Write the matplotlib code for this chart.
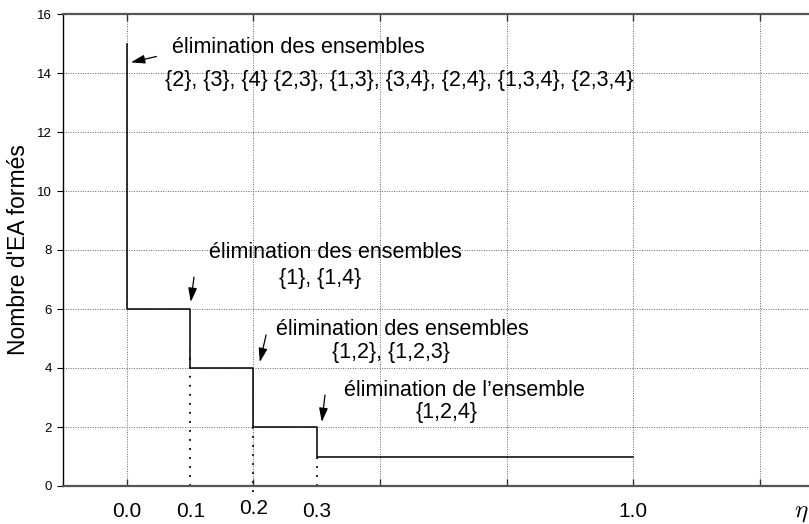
import numpy as np
import matplotlib
matplotlib.use('Agg')
import matplotlib.pyplot as plt
from matplotlib.transforms import blended_transform_factory

plt.rcParams['font.family'] = ['Liberation Sans', 'DejaVu Sans']
plt.rcParams['mathtext.fontset'] = 'cm'

# thresholds (eta) and number of sets formed
eta = [0.0, 0.1, 0.2, 0.3, 1.0]
n_sets = [15, 6, 4, 2, 1]
eta_labels = ['0.0', '0.1', '0.2', '0.3', '1.0']

notes = [
    ('élimination des ensembles',
     '{2}, {3}, {4} {2,3}, {1,3}, {3,4}, {2,4}, {1,3,4}, {2,3,4}'),
    ('élimination des ensembles', '{1}, {1,4}'),
    ('élimination des ensembles', '{1,2}, {1,2,3}'),
    ("élimination de l\u2019ensemble", '{1,2,4}'),
]


# axis is linear up to 0.3 then compressed so 1.0 sits at 0.8
def fwd(x):
    x = np.asarray(x, dtype=float)
    return np.where(x <= 0.3, x, 0.3 + (x - 0.3) * 0.5 / 0.7)


def inv(p):
    p = np.asarray(p, dtype=float)
    return np.where(p <= 0.3, p, 0.3 + (p - 0.3) * 0.7 / 0.5)


def pos(p):
    return float(inv(p))


fig = plt.figure(figsize=(8.09, 5.24), dpi=100)
ax = fig.add_axes([63 / 809, 38 / 524, 760 / 809, 472 / 524])
ax.set_xscale('function', functions=(fwd, inv))
ax.set_xlim(pos(-0.101), pos(1.1))
ax.set_ylim(0, 16)

# step curve
xs = [eta[0]]
ys = [n_sets[0]]
for i in range(1, len(eta)):
    xs += [eta[i - 1], eta[i]]
    ys += [n_sets[i], n_sets[i]]
ax.plot(xs, ys, color='black', lw=1.1, zorder=3)

# coarse dotted drop lines
ax.plot([eta[1], eta[1]], [0, 4.6], color='black', lw=1.3, ls=(0, (1, 4)), zorder=2)
ax.plot([eta[2], eta[2]], [-0.2, 2], color='black', lw=1.3, ls=(0, (1, 4)), zorder=2, clip_on=False)
ax.plot([eta[3], eta[3]], [0, 1], color='black', lw=1.3, ls=(0, (1, 4)), zorder=2)

# grid
grid_x = [pos(p) for p in [0.0, 0.2, 0.4, 0.6, 0.8, 1.0]]
ax.set_xticks(grid_x)
ax.set_xticklabels([])
ax.set_yticks(range(0, 17, 2))
ax.grid(True, color='#666666', lw=0.7, ls=(0, (1, 1.5)))
ax.tick_params(axis='x', direction='in', length=5, top=True, width=1, color='#333333')
ax.tick_params(axis='y', direction='out', length=4, labelsize=9.5, pad=4, width=0.8)

for s in ['top', 'bottom']:
    ax.spines[s].set_color('#555555')
    ax.spines[s].set_linewidth(1.6)
ax.spines['right'].set_visible(False)
ax.spines['left'].set_linewidth(1.0)

ax.set_ylabel("Nombre d'EA formés", fontsize=16.5, labelpad=5)

# x tick labels
tr = blended_transform_factory(ax.transData, ax.transAxes)
for x, lab in zip(eta, eta_labels):
    yy = -0.047 if lab == '0.2' else -0.055
    ax.text(x, yy, lab, transform=tr, ha='center', va='center', fontsize=15)
ax.text(pos(1.066), -0.055, r'$\eta$', transform=tr, ha='center', va='center', fontsize=18)

# annotations
fs = 15.5
ax.text(pos(0.071), 14.88, notes[0][0], ha='left', va='center', fontsize=fs)
ax.text(pos(0.060), 13.76, notes[0][1], ha='left', va='center', fontsize=fs)
ax.text(pos(0.329), 7.93, notes[1][0], ha='center', va='center', fontsize=fs)
ax.text(pos(0.305), 7.05, notes[1][1], ha='center', va='center', fontsize=fs)
ax.text(pos(0.435), 5.29, notes[2][0], ha='center', va='center', fontsize=fs)
ax.text(pos(0.417), 4.54, notes[2][1], ha='center', va='center', fontsize=fs)
ax.text(pos(0.534), 3.25, notes[3][0], ha='center', va='center', fontsize=fs)
ax.text(pos(0.506), 2.50, notes[3][1], ha='center', va='center', fontsize=fs)

arrows = [
    ((pos(0.0063), 14.36), (pos(0.0466), 14.56)),
    ((pos(0.101), 6.24), (pos(0.106), 7.08)),
    ((pos(0.210), 4.2), (pos(0.220), 5.12)),
    ((pos(0.308), 2.17), (pos(0.313), 3.08)),
]
for tip, tail in arrows:
    ax.annotate('', xy=tip, xytext=tail,
                arrowprops=dict(arrowstyle='-|>,head_length=0.7,head_width=0.22',
                                color='black', lw=0.9,
                                mutation_scale=12, shrinkA=0, shrinkB=0))

fig.savefig('out.png', dpi=100)
